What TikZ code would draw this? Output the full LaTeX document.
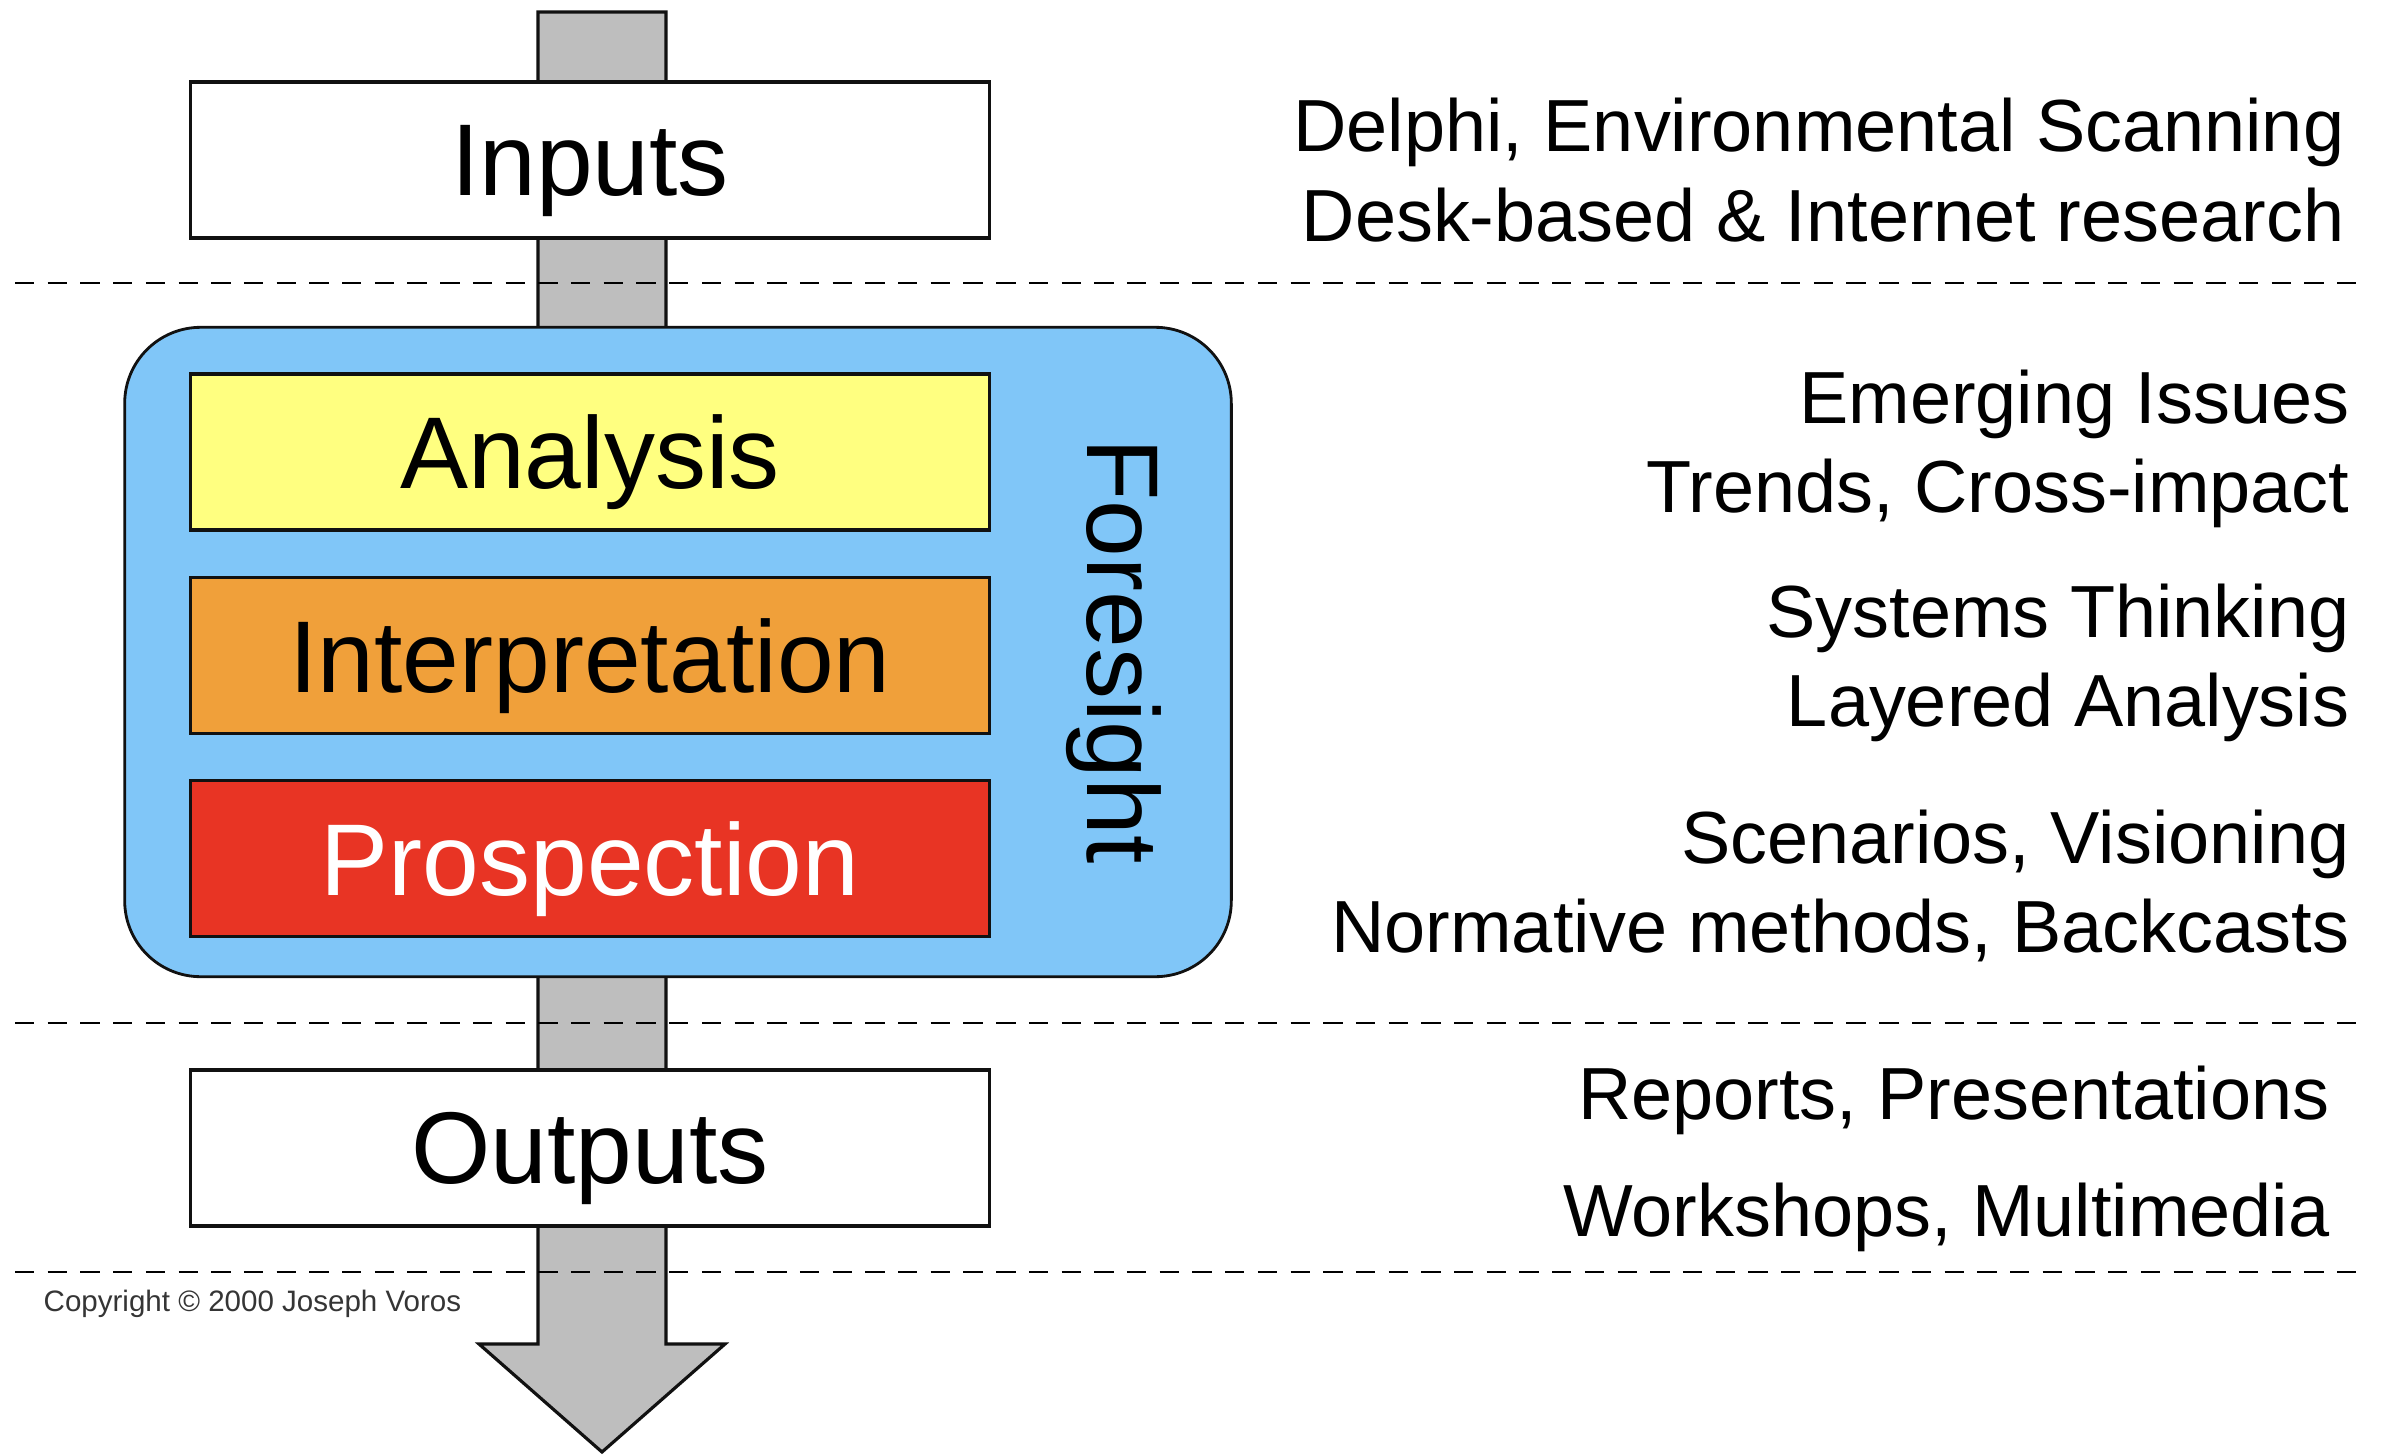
\documentclass[tikz,border=0pt]{standalone}
\usepackage{fontspec}
\setmainfont{Liberation Sans}
\usepackage{tikz}
\usetikzlibrary{positioning,calc}
\definecolor{shaftgrey}{HTML}{BEBEBE}
\definecolor{skyblue}{HTML}{80C6F8}
\definecolor{paleyellow}{HTML}{FFFF80}
\definecolor{amber}{HTML}{F0A03A}
\definecolor{scarlet}{HTML}{E83424}
\definecolor{ink}{HTML}{111111}
\tikzset{
  stagebox/.style={
    rectangle, draw=ink, fill=#1, line width=0.9pt,
    minimum width=7.98cm, minimum height=1.56cm,
    font=\fontsize{29}{34}\selectfont, inner sep=0pt, text depth=0pt
  },
  stagebox/.default=white,
  framebox/.style={
    rectangle, rounded corners=0.76cm, draw=ink, fill=skyblue,
    line width=0.8pt, minimum width=11.06cm, minimum height=6.49cm
  },
  methodtext/.style={
    anchor=east, align=right, inner sep=0pt,
    font=\fontsize{21}{25.5}\selectfont
  },
  divider/.style={dashed, dash pattern=on 5.5pt off 3.8pt, line width=0.6pt},
}

\begin{document}
\begin{tikzpicture}[x=0.01cm, y=-0.01cm]
  \useasboundingbox (0,0) rectangle (2383,1455);
  % the flow arrow, behind everything
  \coordinate (top) at (602,12);
  \coordinate (tip) at (602,1452);
  \draw[ink, fill=shaftgrey, line width=0.9pt]
    ($(top)+(-64,0)$) -- ($(top)+(64,0)$) -- ($(tip)+(64,-108)$) -- ($(tip)+(123,-108)$)
    -- (tip) -- ($(tip)+(-123,-108)$) -- ($(tip)+(-64,-108)$) -- cycle;
  \foreach \y in {283,1023,1272} { \draw[divider] (15,\y) -- (2359,\y); }

  \node[stagebox] (inputs) at (590,160) {Inputs};
  \node[framebox] (foresight) at (678,652) {};
  \node[stagebox=paleyellow] (analysis) at (590,452) {Analysis};
  \node[stagebox=amber, below=0.44cm of analysis] (interpretation) {Interpretation};
  \node[stagebox=scarlet, text=white, below=0.44cm of interpretation] (prospection) {Prospection};
  \node[rotate=-90, font=\fontsize{29}{34}\selectfont, inner sep=0pt] (foresightlabel) at (1114,651) {Foresight};
  \node[stagebox] (outputs) at (590,1148) {Outputs};

  \node[methodtext] (inputtools) at (2345,170) {Delphi, Environmental Scanning\\Desk-based \& Internet research};
  \node[methodtext] (analysistools) at (2350,449) {Emerging Issues\\Trends, Cross-impact};
  \node[methodtext] (interptools) at (2350,663) {Systems Thinking\\Layered Analysis};
  \node[methodtext] (prosptools) at (2350,886) {Scenarios, Visioning\\Normative methods, Backcasts};
  \node[methodtext] (reports) at (2330,1100) {Reports, Presentations};
  \node[methodtext] (workshops) at (2330,1217) {Workshops, Multimedia};

  \node[anchor=west, inner sep=0pt, text=ink!85, font=\fontsize{8.4}{10}\selectfont] (copyright) at (43,1304) {Copyright © 2000 Joseph Voros};
\end{tikzpicture}
\end{document}
